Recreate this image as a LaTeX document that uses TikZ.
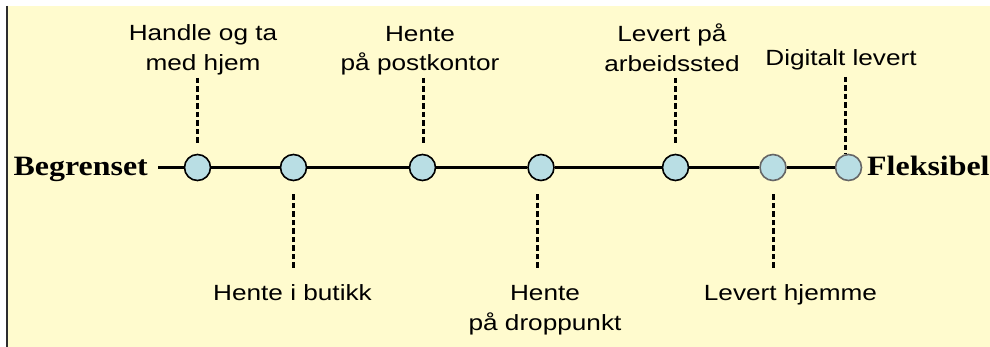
\documentclass[tikz,border=0pt]{standalone}
\usepackage{fontspec}
\newfontfamily\labelfont[FakeStretch=1.19]{Liberation Sans}
\newfontfamily\endfont[FakeStretch=1.14]{Liberation Serif}
\definecolor{paper}{RGB}{255,251,206}
\definecolor{dotfill}{RGB}{185,222,228}
\definecolor{frameline}{RGB}{45,45,45}
\tikzset{
  dot/.style={circle, minimum size=26pt, inner sep=0pt, fill=dotfill, draw=black, line width=1.6pt},
  softdot/.style={dot, draw=black!60},
  axis/.style={line width=2.2pt, black},
  leader/.style={line width=3pt, dash pattern=on 5.5pt off 3pt, black},
  choice/.style={font=\labelfont\fontsize{22}{29.5}\selectfont, align=center, inner sep=0pt, anchor=base},
  pole/.style={font=\endfont\bfseries\fontsize{28}{30}\selectfont, inner sep=0pt}
}
\begin{document}
\begin{tikzpicture}[x=1pt, y=-1pt]
  % page area: white margin above, frame rule on the left
  \useasboundingbox (0,0) rectangle (990,347);
  \fill[white] (0,0) rectangle (990,347);
  \fill[paper] (7,6) rectangle (990,347);
  \draw[frameline, line width=1.5pt] (7,6) -- (7,347);

  % scale end labels
  \node[pole, anchor=base east] (lo) at (148,176) {Begrenset};
  \node[pole, anchor=base west] (hi) at (867,176) {Fleksibel};
  \coordinate (start) at (158,167.5);

  % options along the scale
  \node[dot] (c1) at (197.5,167.5) {};
  \node[dot] (c2) at (293.5,167.5) {};
  \node[dot] (c3) at (422.5,167.5) {};
  \node[dot] (c4) at (541,167.5) {};
  \node[dot] (c5) at (675.5,167.5) {};
  \node[softdot] (c6) at (773,167.5) {};
  \node[softdot] (c7) at (848.5,167.5) {};

  \draw[axis] (start) -- (c1) -- (c2) -- (c3) -- (c4) -- (c5) -- (c6) -- (c7);

  % option labels (base anchor sits on the last line)
  \node[choice] (l1) at (203,70.5) {Handle og ta\\med hjem};
  \node[choice] (l2) at (292.5,300.5) {Hente i butikk};
  \node[choice] (l3) at (420,71) {Hente\\på postkontor};
  \node[choice] (l4) at (545,330) {Hente\\på droppunkt};
  \node[choice] (l5) at (672,71.5) {Levert på\\arbeidssted};
  \node[choice] (l6) at (790.5,300.5) {Levert hjemme};
  \node[choice] (l7) at (841,65.5) {Digitalt levert};

  % leader lines from labels to the scale
  \coordinate (t1) at (197,78);
  \coordinate (b2) at (293,268);
  \coordinate (t3) at (423,78);
  \coordinate (b4) at (537,268);
  \coordinate (t5) at (675,78);
  \coordinate (b6) at (773,268);
  \coordinate (t7) at (845,77);

  \draw[leader, shorten >=11pt] (t1) -- (t1 |- c1.north);
  \draw[leader, shorten >=12pt] (b2) -- (b2 |- c2.south);
  \draw[leader, shorten >=11pt] (t3) -- (t3 |- c3.north);
  \draw[leader, shorten >=12pt] (b4) -- (b4 |- c4.south);
  \draw[leader, shorten >=11pt] (t5) -- (t5 |- c5.north);
  \draw[leader, shorten >=12pt] (b6) -- (b6 |- c6.south);
  \draw[leader] (t7) -- (t7 |- c7.north);
\end{tikzpicture}
\end{document}
